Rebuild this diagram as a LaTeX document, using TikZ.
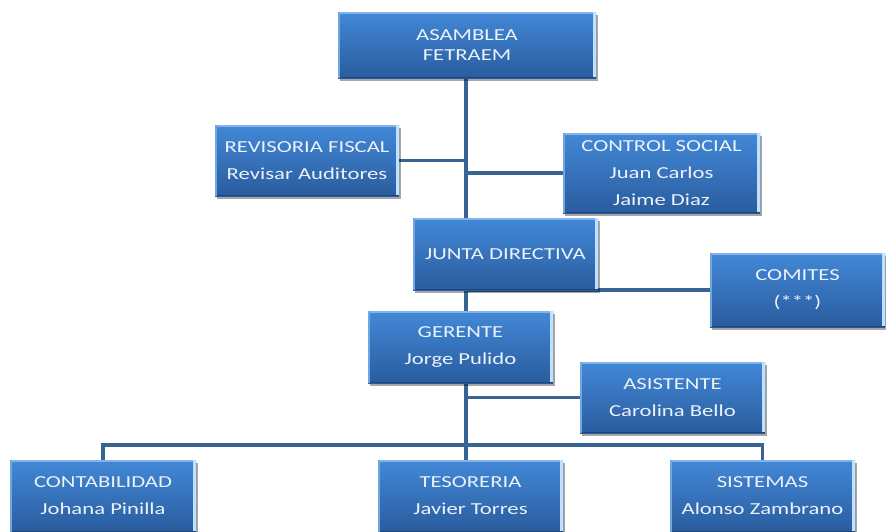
\documentclass[tikz,border=0pt]{standalone}
\usepackage{fontspec}
\setmainfont{Carlito}[FakeStretch=1.35]
\usetikzlibrary{shadows,backgrounds,calc}
\definecolor{boxtop}{RGB}{66,136,215}
\definecolor{boxbot}{RGB}{42,92,158}
\definecolor{linkcol}{RGB}{56,100,148}
\definecolor{hilite}{RGB}{190,225,255}
\definecolor{topedge}{RGB}{130,180,235}
\definecolor{botedge}{RGB}{30,70,125}
\definecolor{txtcol}{RGB}{236,242,250}
\tikzset{
  orgbox/.style={rectangle, top color=boxtop, bottom color=boxbot,
    draw=none, text=txtcol, align=center, inner sep=0pt,
    font=\fontsize{16.8}{27}\selectfont,
    drop shadow={shadow xshift=2pt, shadow yshift=-3pt, fill=black, opacity=0.35},
    path picture={
      \draw[topedge, line width=2pt] ([yshift=-1pt]path picture bounding box.north west) -- ([yshift=-1pt]path picture bounding box.north east);
      \draw[hilite, line width=2.5pt] ([xshift=-1.5pt]path picture bounding box.north east) -- ([xshift=-1.5pt]path picture bounding box.south east);
      \draw[botedge, line width=1.5pt] ([yshift=0.75pt]path picture bounding box.south west) -- ([yshift=0.75pt]path picture bounding box.south east);
      \draw[topedge!70!boxtop, line width=1.5pt] ([xshift=0.75pt]path picture bounding box.north west) -- ([xshift=0.75pt]path picture bounding box.south west);
    }},
  link/.style={draw=linkcol, line width=3.5pt}
}
\begin{document}
\begin{tikzpicture}[x=1pt,y=-1pt]
\useasboundingbox (0,0) rectangle (886,531);
\node[orgbox, minimum width=258pt, minimum height=66pt, font=\fontsize{16.8}{20}\selectfont] (asamblea) at (467,45) {ASAMBLEA\\FETRAEM};
\node[orgbox, minimum width=184pt, minimum height=71pt] (revisoria) at (307,160.5) {REVISORIA FISCAL\\Revisar Auditores};
\node[orgbox, minimum width=197pt, minimum height=80pt] (control) at (661.5,173) {CONTROL SOCIAL\\Juan Carlos\\Jaime Diaz};
\node[orgbox, minimum width=185pt, minimum height=72pt] (junta) at (505.5,254) {JUNTA DIRECTIVA};
\node[orgbox, minimum width=175pt, minimum height=74pt] (comites) at (797.5,290) {COMITES\\(***)};
\node[orgbox, minimum width=185pt, minimum height=72pt] (gerente) at (460.5,347) {GERENTE\\Jorge Pulido};
\node[orgbox, minimum width=185pt, minimum height=71pt] (asistente) at (672.5,397.5) {ASISTENTE\\Carolina Bello};
\node[orgbox, minimum width=186pt, minimum height=72pt] (contab) at (103,496) {CONTABILIDAD\\Johana Pinilla};
\node[orgbox, minimum width=185pt, minimum height=72pt] (tesoreria) at (470.5,496) {TESORERIA\\Javier Torres};
\node[orgbox, minimum width=185pt, minimum height=72pt] (sistemas) at (762.5,496) {SISTEMAS\\Alonso Zambrano};
\coordinate (bus) at (466,445);
\begin{pgfonlayer}{background}
\fill[white] (0,0) rectangle (886,531);
\draw[link] (asamblea.south -| bus) -- (bus);
\draw[link] (revisoria.east) -- (revisoria.east -| bus);
\draw[link] (control.west) -- (control.west -| bus);
\draw[link] (comites.west) -- (comites.west -| bus);
\draw[link] (asistente.west) -- (asistente.west -| bus);
\draw[link] (contab.north) |- (bus) -| (sistemas.north);
\draw[link] (bus) -- (bus |- tesoreria.north);
\end{pgfonlayer}
\end{tikzpicture}
\end{document}
